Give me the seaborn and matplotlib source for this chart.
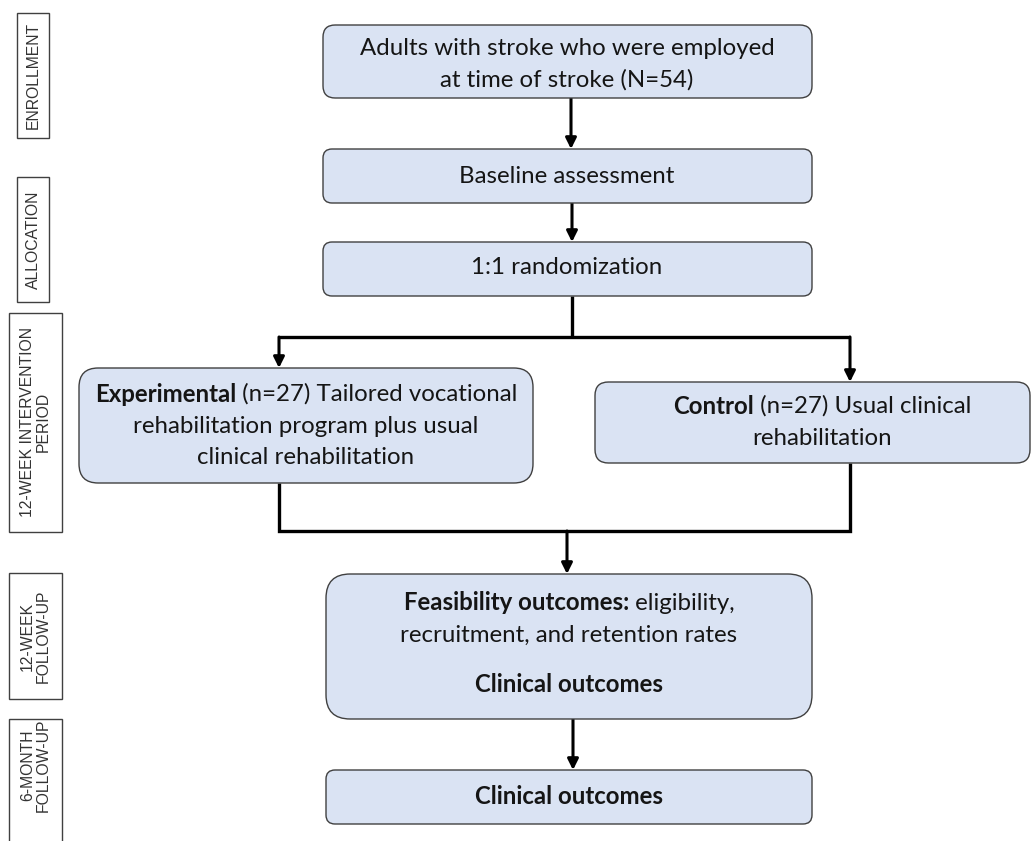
import matplotlib
matplotlib.use("Agg")
import matplotlib.pyplot as plt
import seaborn as sns
from matplotlib.patches import FancyBboxPatch, Rectangle

# text of the flow chart
stage_labels = ["ENROLLMENT", "ALLOCATION", "12-WEEK INTERVENTION\nPERIOD",
                "12-WEEK\nFOLLOW-UP", "6-MONTH\nFOLLOW-UP"]
enroll_text = [[("Adults with stroke who were employed", "normal")],
               [("at time of stroke (N=54)", "normal")]]
baseline_text = [[("Baseline assessment", "normal")]]
random_text = [[("1:1 randomization", "normal")]]
exper_text = [[("Experimental", "bold"), (" (n=27) Tailored vocational", "normal")],
              [("rehabilitation program plus usual", "normal")],
              [("clinical rehabilitation", "normal")]]
control_text = [[("Control", "bold"), (" (n=27) Usual clinical", "normal")],
                [("rehabilitation", "normal")]]
feas_text = [[("Feasibility outcomes:", "bold"), (" eligibility,", "normal")],
             [("recruitment, and retention rates", "normal")],
             [("Clinical outcomes", "bold")]]
clinical_text = [[("Clinical outcomes", "bold")]]

sns.set_theme(style="white")
plt.rcParams['font.family'] = ['Lato', 'DejaVu Sans']

W, H = 1035, 841
fig = plt.figure(figsize=(W / 100, H / 100), dpi=100)
ax = fig.add_axes([0, 0, 1, 1])
ax.set_xlim(0, W)
ax.set_ylim(H, 0)
ax.axis('off')
renderer = fig.canvas.get_renderer()

FILL = '#dae3f3'
EDGE = '#404040'
FS = 17.3


def box(x0, y0, x1, y1):
    r = 0.167 * (y1 - y0)
    p = FancyBboxPatch((x0, y0), x1 - x0, y1 - y0,
                       boxstyle=f"round,pad=0,rounding_size={r}",
                       fc=FILL, ec=EDGE, lw=1.0, zorder=2)
    ax.add_patch(p)


def rich_line(xc, y, segs):
    arts = []
    for s, w in segs:
        t = ax.text(0, y, s, fontsize=FS, fontweight=w, va='center', ha='left',
                    color='#151515', zorder=3)
        arts.append(t)
    widths = [a.get_window_extent(renderer).width for a in arts]
    x = xc - sum(widths) / 2
    for a, wd in zip(arts, widths):
        a.set_x(x)
        x += wd


def write(xc, ys, lines):
    for y, segs in zip(ys, lines):
        rich_line(xc, y, segs)


def arrow(x, y0, y1):
    ax.annotate("", xy=(x, y1), xytext=(x, y0),
                arrowprops=dict(arrowstyle='-|>', lw=2.2, color='black',
                                mutation_scale=16, shrinkA=0, shrinkB=0),
                zorder=1)


def line(xs, ys):
    ax.plot(xs, ys, color='black', lw=2.4, solid_capstyle='butt',
            solid_joinstyle='miter', zorder=1)


# side stage labels
stage_boxes = [(17, 13, 49, 138), (17, 177, 49, 302), (9, 313, 62, 532),
               (9, 573, 62, 699), (9, 719, 62, 870)]
stage_centers = [75, 240, 422, 636, 765]
for lab, (x0, y0, x1, y1), yc in zip(stage_labels, stage_boxes, stage_centers):
    ax.add_patch(Rectangle((x0, y0), x1 - x0, y1 - y0, fc='white', ec=EDGE,
                           lw=1.0, zorder=2))
    ax.text((x0 + x1) / 2, yc, lab, rotation=90, ha='center', va='center',
            fontsize=11.3, family=['Liberation Sans', 'DejaVu Sans'],
            color='#333333', linespacing=1.1, zorder=3)

# connectors
arrow(571, 98, 149)
arrow(572, 203, 242)
line([572, 572], [296, 337])
line([279, 850], [337, 337])
arrow(279, 337, 368)
arrow(850, 337, 382)
line([279, 279, 850, 850], [483, 531, 531, 463])
arrow(567, 531, 574)
arrow(573, 719, 770)

# main boxes
box(323, 25, 812, 98)
write(567, [48, 80], enroll_text)
box(323, 149, 812, 203)
write(567, [176], baseline_text)
box(323, 242, 812, 296)
write(567, [268], random_text)
box(79, 368, 533, 483)
write(306, [394, 426, 457], exper_text)
box(595, 382, 1030, 463)
write(822, [406, 438], control_text)
box(326, 574, 812, 719)
write(569, [603, 635, 685], feas_text)
box(326, 770, 812, 824)
write(569, [797], clinical_text)

fig.savefig("out.png", dpi=100)
